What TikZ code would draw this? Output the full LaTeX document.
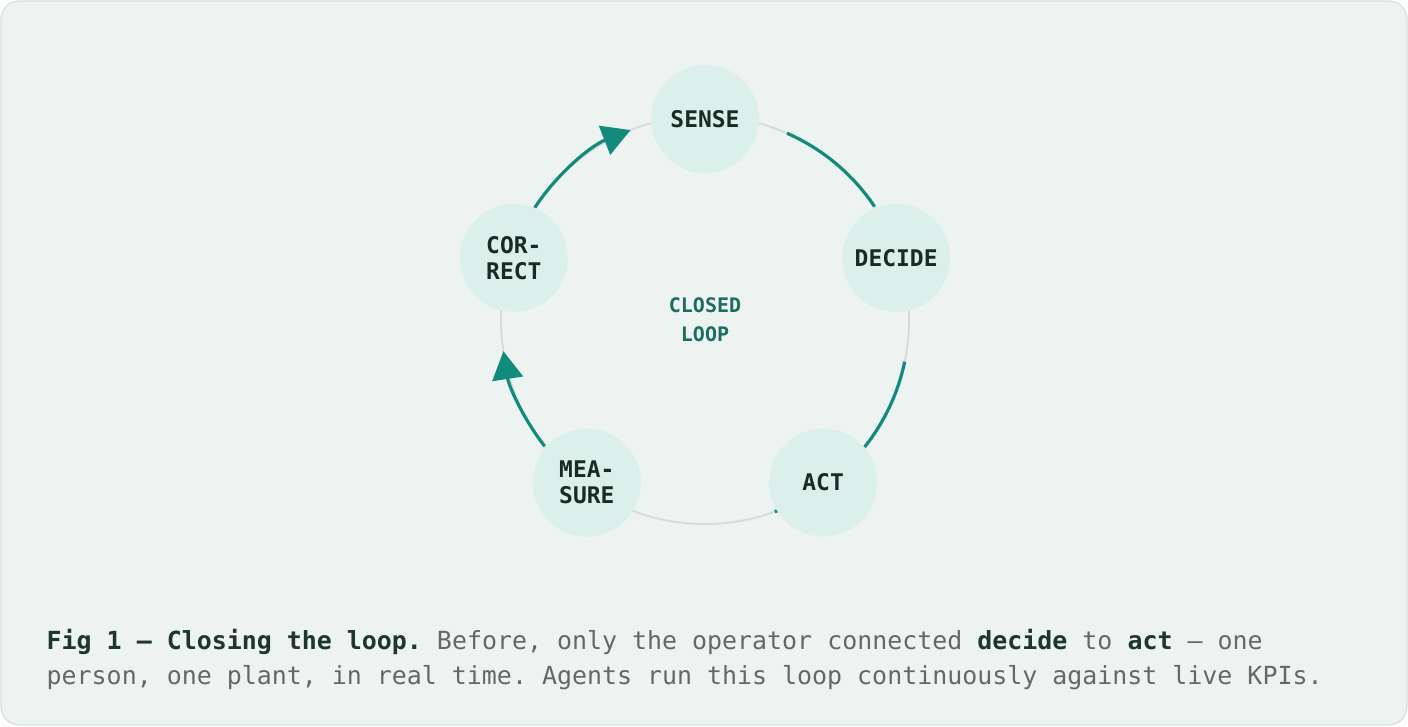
\documentclass[tikz,border=0pt]{standalone}
\usepackage{fontspec}
\setmonofont{DejaVu Sans Mono}
\usetikzlibrary{arrows.meta}

\definecolor{panelfill}{HTML}{EDF3F0}
\definecolor{panelline}{HTML}{D8E0DC}
\definecolor{stagefill}{HTML}{DBF0EA}
\definecolor{ringgray}{HTML}{D6DCD9}
\definecolor{loopgreen}{HTML}{138B7C}
\definecolor{stageink}{HTML}{1B2A25}
\definecolor{hubink}{HTML}{1D6D5E}
\definecolor{captionink}{HTML}{5E6C67}
\definecolor{captionbold}{HTML}{1F3630}

\newcommand*\ringradius{204}
\newcommand*\stagedist{201}
\tikzset{stage/.style={
    circle,
    fill=stagefill,
    minimum size=81pt,
    inner sep=0pt,
    align=center,
    text=stageink,
    font=\ttfamily\bfseries\fontsize{17.2}{19.5}\selectfont
},
flow/.style={
    draw=loopgreen,
    line width=2.4pt
},
tipflow/.style={
    flow,
    -{Triangle[length=21pt,width=23pt,fill=loopgreen]}
}}

\begin{document}
\begin{tikzpicture}[x=0.75pt,y=0.75pt]

    % Panel and page size.
    \useasboundingbox (-705,-406) rectangle (703,320);
    \draw[fill=panelfill,draw=panelline,line width=0.9pt,rounded corners=13.5pt]
        (-704,-405) rectangle (702,319);

    % The text in the middle of the loop.
    \node[align=center,text=hubink,font=\ttfamily\bfseries\fontsize{15}{21.75}\selectfont]
        (hub) at (0,0) {CLOSED\\LOOP};

    % The grey ring and the green pieces on it.
    \draw[ringgray,line width=1.5pt] (hub.center) circle[radius=\ringradius];
    \draw[tipflow] ([shift={(146.6:\ringradius)}]hub.center) arc[start angle=146.6,end angle=111.4,radius=\ringradius];
    \draw[flow] ([shift={(66.3:\ringradius)}]hub.center) arc[start angle=66.3,end angle=33.8,radius=\ringradius];
    \draw[flow] ([shift={(-11.8:\ringradius)}]hub.center) arc[start angle=-11.8,end angle=-38.5,radius=\ringradius];
    \draw[flow] ([shift={(-68.6:\ringradius)}]hub.center) arc[start angle=-68.6,end angle=-70,radius=\ringradius];
    \draw[tipflow] ([shift={(-141.8:\ringradius)}]hub.center) arc[start angle=-141.8,end angle=-171.2,radius=\ringradius];

    % The five stages, put on top of the ring.
    \foreach \name/\angle/\label in {sense/90/SENSE,decide/18/DECIDE,act/-54/ACT,measure/-126/{MEA-\\SURE},correct/162/{COR-\\RECT}}
        \node[stage] (\name) at (\angle:\stagedist) {\label};

    % Caption below.
    \node[anchor=base west,text=captionink,font=\ttfamily\fontsize{18.7}{26}\selectfont]
        (caption1) at (-663,-329) {\textcolor{captionbold}{\bfseries Fig 1 — Closing the loop.} Before, only the operator connected \textcolor{captionbold}{\bfseries decide} to \textcolor{captionbold}{\bfseries act} — one};
    \node[anchor=base west,text=captionink,font=\ttfamily\fontsize{18.7}{26}\selectfont]
        (caption2) at (-663,-364) {person, one plant, in real time. Agents run this loop continuously against live KPIs.};

\end{tikzpicture}
\end{document}
